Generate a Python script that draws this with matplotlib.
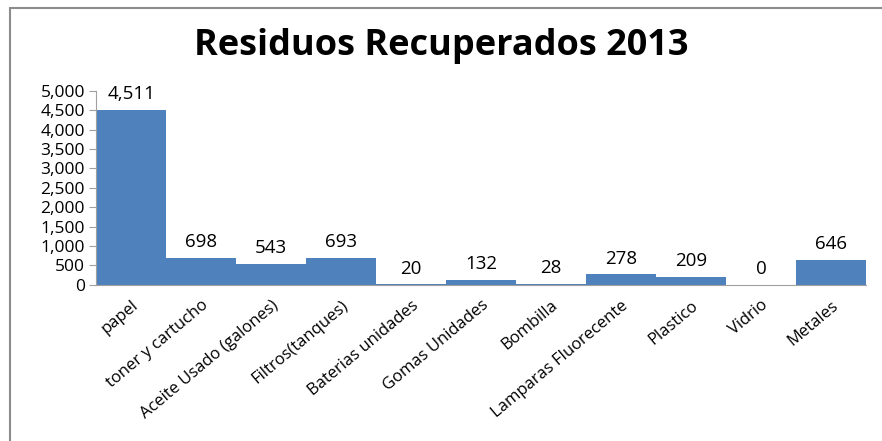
import numpy as np
import matplotlib.pyplot as plt
from matplotlib.patches import Rectangle
from matplotlib.ticker import FuncFormatter

categorias = ["papel", "toner y cartucho", "Aceite Usado (galones)", "Filtros(tanques)",
              "Baterias unidades", "Gomas Unidades", "Bombilla", "Lamparas Fluorecente",
              "Plastico", "Vidrio", "Metales"]
valores = [4511, 698, 543, 693, 20, 132, 28, 278, 209, 0, 646]

plt.rcParams['font.family'] = ['Open Sans', 'DejaVu Sans']

fig = plt.figure(figsize=(8.82, 4.41), dpi=100)
ax = fig.add_axes([0.109, 0.354, 0.873, 0.44])

# marco gris del grafico
fig.patches.append(Rectangle((0.011, -0.1), 1.1, 1.082, transform=fig.transFigure,
                             fill=False, edgecolor='#8c8c8c', linewidth=1.5))

x = np.arange(len(categorias))
ax.bar(x, valores, width=1.0, color='#4F81BD')
for xi, v in zip(x, valores):
    ax.text(xi, v + 170, f"{v:,}", ha='center', va='bottom', fontsize=13.5)

ax.set_xlim(-0.5, len(categorias) - 0.5)
ax.set_ylim(0, 5000)
ax.set_yticks(np.arange(0, 5001, 500))
ax.yaxis.set_major_formatter(FuncFormatter(lambda v, p: f"{int(v):,}"))
ax.set_xticks(x)
ax.set_xticklabels(categorias, rotation=40, ha='right', rotation_mode='anchor', fontsize=12)
ax.tick_params(axis='y', labelsize=12.5, length=5, color='#a0a0a0', pad=3)
ax.tick_params(axis='x', length=0, pad=9)
for s in ['top', 'right']:
    ax.spines[s].set_visible(False)
for s in ['left', 'bottom']:
    ax.spines[s].set_color('#a0a0a0')

fig.text(0.5, 0.895, "Residuos Recuperados 2013", ha='center', va='center',
         fontsize=26, fontweight='bold')

plt.savefig("out.png", dpi=100)
